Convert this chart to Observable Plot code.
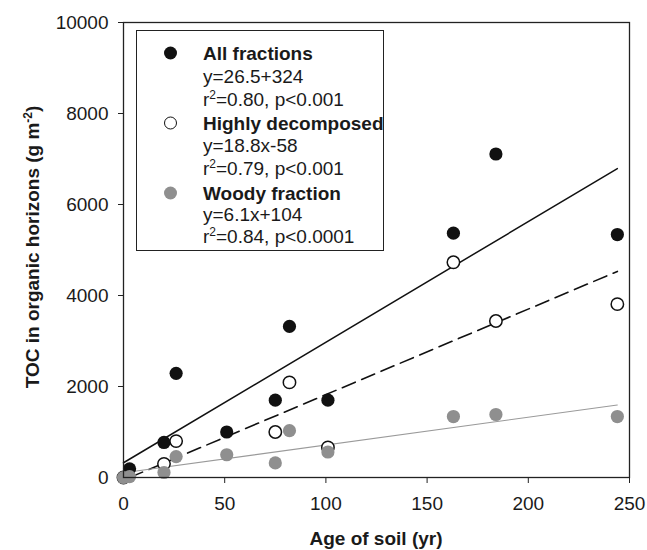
<!DOCTYPE html>
<html>
<head>
<meta charset="utf-8">
<script src="https://cdn.jsdelivr.net/npm/d3@7"></script>
<script src="https://cdn.jsdelivr.net/npm/@observablehq/plot@0.6"></script>
<style>
  html, body { margin: 0; padding: 0; background: #fff; }
  #wrap { position: relative; width: 647px; height: 550px; font-family: "Liberation Sans", Arial, sans-serif; color: #1a1a1a; }
  #legend { position: absolute; left: 136px; top: 30px; width: 248px; height: 221px; border: 1.3px solid #222; box-sizing: border-box; background: #fff; }
  .row { position: absolute; left: 66px; font-size: 19px; line-height: 23px; white-space: nowrap; transform: translateY(-50%); }
  .row.b { font-weight: bold; }
  .mk { position: absolute; left: 27px; width: 13px; height: 13px; border-radius: 50%; box-sizing: border-box; transform: translateY(-50%); }
  sup { font-size: 12px; line-height: 0; vertical-align: 7px; }
</style>
</head>
<body>
<div id="wrap"><div id="chart"></div><div id="legend"></div></div>
<script>
// ---- data ----
const ages = [0, 3, 20, 26, 51, 75, 82, 101, 163, 184, 244];
const allFractions     = [null, 190, 770, 2290, 1000, 1700, 3320, 1700, 5370, 7110, 5340];
const highlyDecomposed = [0, null, 300, 800, null, 1000, 2090, 660, 4730, 3440, 3810];
const woodyFraction    = [0, 20, 110, 460, 500, 320, 1030, 560, 1340, 1385, 1340];

const seriesNames = ["All fractions", "Highly decomposed", "Woody fraction"];
const fitSlopes = [26.5, 18.8, 6.1];
const fitIntercepts = [324, -58, 104];
const fitStart = [0, 3, 0];
const fitEnd = [244, 244, 244];
const equationLabels = ["y=26.5+324", "y=18.8x-58", "y=6.1x+104"];
const statLabels = [["0.80", "p<0.001"], ["0.79", "p<0.001"], ["0.84", "p<0.0001"]];

const xTicks = [0, 50, 100, 150, 200, 250];
const yTicks = [0, 2000, 4000, 6000, 8000, 10000];
const xTitle = "Age of soil (yr)";
const yTitle = "TOC in organic horizons (g m";

// ---- build tables ----
const toPts = vals => ages.map((a, i) => ({x: a, y: vals[i]})).filter(d => d.y != null);
const ptsAll = toPts(allFractions);
const ptsHigh = toPts(highlyDecomposed);
const ptsWood = toPts(woodyFraction);
const fitLine = k => [fitStart[k], fitEnd[k]].map(x => ({x, y: fitSlopes[k] * x + fitIntercepts[k]}));

const chart = Plot.plot({
  width: 647,
  height: 550,
  marginLeft: 123,
  marginRight: 18,
  marginTop: 22,
  marginBottom: 73,
  style: { fontFamily: "'Liberation Sans', Arial, sans-serif", fontSize: "19px", color: "#1a1a1a", background: "#fff", overflow: "visible" },
  x: { domain: [0, 250] },
  y: { domain: [0, 10000] },
  marks: [
    Plot.axisX({ ticks: xTicks, tickSize: 6, tickPadding: 13, tickFormat: d => String(d), label: null, stroke: "#222" }),
    Plot.axisY({ ticks: yTicks, tickSize: 5, tickPadding: 10, tickFormat: d => String(d), label: null, stroke: "#222" }),
    Plot.line(fitLine(0), { x: "x", y: "y", stroke: "#111", strokeWidth: 1.5 }),
    Plot.line(fitLine(1), { x: "x", y: "y", stroke: "#111", strokeWidth: 1.6, strokeDasharray: "14,7" }),
    Plot.line(fitLine(2), { x: "x", y: "y", stroke: "#9a9a9a", strokeWidth: 1.1 }),
    Plot.dot(ptsAll, { x: "x", y: "y", r: 6.6, fill: "#111", stroke: "none" }),
    Plot.dot(ptsHigh, { x: "x", y: "y", r: 6.2, fill: "#fff", stroke: "#111", strokeWidth: 1.5 }),
    Plot.dot(ptsWood, { x: "x", y: "y", r: 6.6, fill: "#8f8f8f", stroke: "none" }),
    Plot.frame({ stroke: "#222", strokeWidth: 1.3 })
  ]
});
document.getElementById("chart").appendChild(chart);

// axis titles
const svg = d3.select(chart);
svg.append("text")
  .attr("x", 376).attr("y", 538).attr("dy", "0.35em")
  .attr("text-anchor", "middle").attr("font-weight", "bold").attr("font-size", "19px").attr("fill", "#1a1a1a")
  .text(xTitle);
const yt = svg.append("text")
  .attr("transform", "translate(32,247) rotate(-90)").attr("dy", "0.35em")
  .attr("text-anchor", "middle").attr("font-weight", "bold").attr("font-size", "19px").attr("fill", "#1a1a1a");
yt.append("tspan").text(yTitle);
yt.append("tspan").attr("font-size", "12px").attr("dy", "-7").text("-2");
yt.append("tspan").attr("dy", "7").text(")");

// legend
const legend = document.getElementById("legend");
const markerStyles = [
  "background:#111;",
  "background:#fff;border:1.5px solid #111;",
  "background:#8f8f8f;"
];
const rowTops = [21.7, 45, 68.3, 91.7, 114, 136.7, 161.7, 183.3, 205];
seriesNames.forEach((name, k) => {
  const m = document.createElement("div");
  m.className = "mk";
  m.style.cssText = markerStyles[k] + "top:" + rowTops[k * 3] + "px;";
  legend.appendChild(m);
  const r1 = document.createElement("div");
  r1.className = "row b"; r1.style.top = rowTops[k * 3] + "px"; r1.textContent = name;
  legend.appendChild(r1);
  const r2 = document.createElement("div");
  r2.className = "row"; r2.style.top = rowTops[k * 3 + 1] + "px"; r2.textContent = equationLabels[k];
  legend.appendChild(r2);
  const r3 = document.createElement("div");
  r3.className = "row"; r3.style.top = rowTops[k * 3 + 2] + "px";
  r3.innerHTML = "r<sup>2</sup>=" + statLabels[k][0] + ", " + statLabels[k][1].replace("<", "&lt;");
  legend.appendChild(r3);
});
</script>
</body>
</html>
